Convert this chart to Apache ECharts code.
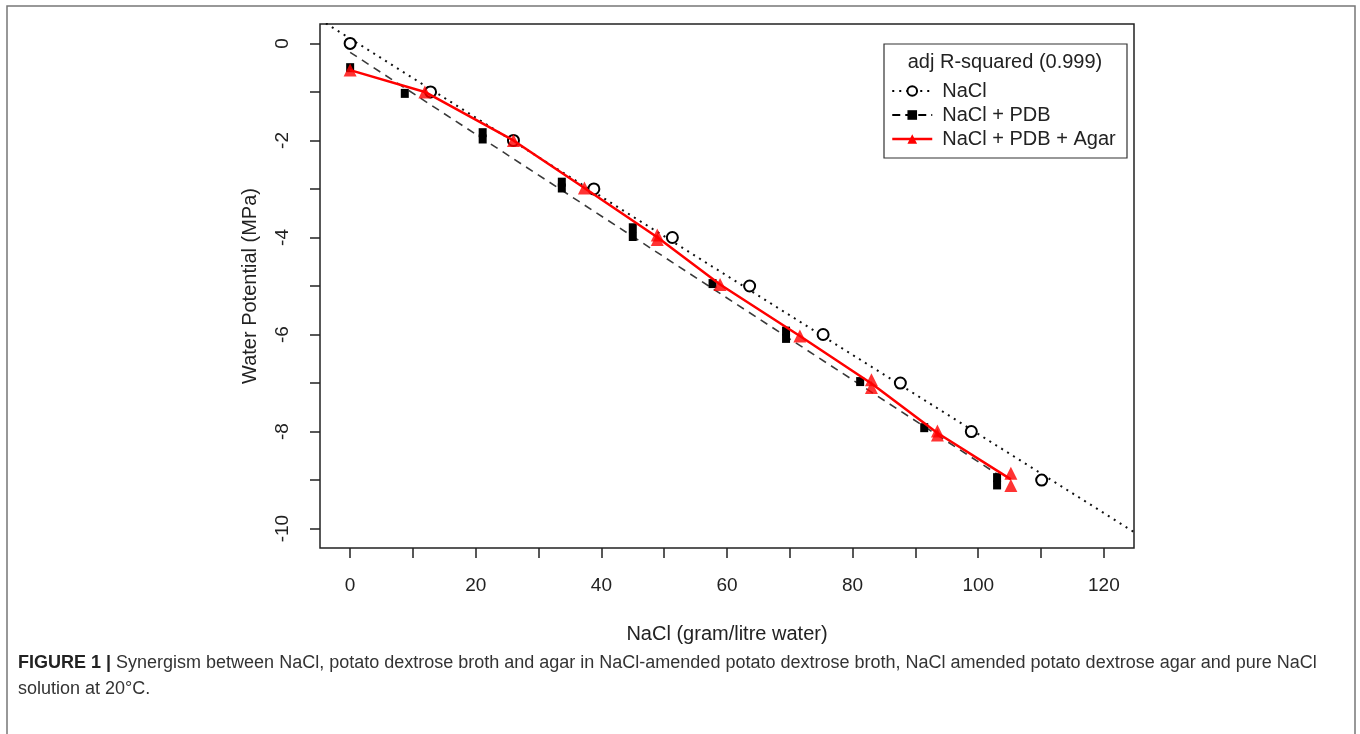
<!DOCTYPE html>
<html>
<head>
<meta charset="utf-8">
<script src="https://cdn.jsdelivr.net/npm/echarts@6/dist/echarts.min.js"></script>
<style>html,body{margin:0;padding:0;background:#fff;}#c{width:1360px;height:734px;}</style>
</head>
<body>
<div id="c"></div>
<script>
// ---- data ----
const naclX = [0, 12.8, 26, 38.8, 51.3, 63.6, 75.3, 87.6, 98.9, 110.1];
const naclY = [0, -1, -2, -3, -4, -5, -6, -7, -8, -9];

const pdbX = [0, 8.7, 21.1, 21.1, 33.7, 33.7, 45.0, 45.0, 57.7, 69.4, 69.4, 81.2, 91.4, 103.0, 103.0];
const pdbY = [-0.5, -1.03, -1.84, -1.97, -2.86, -2.98, -3.8, -3.98, -4.95, -5.93, -6.08, -6.97, -7.92, -8.95, -9.1];

const agarX = [0, 11.9, 26.0, 37.3, 48.9, 48.9, 58.9, 71.6, 83.0, 83.0, 93.5, 93.5, 105.2, 105.2];
const agarY = [-0.55, -1.0, -2.0, -2.98, -3.95, -4.04, -4.97, -6.03, -6.93, -7.09, -7.99, -8.07, -8.86, -9.11];

const xTicks = [0, 10, 20, 30, 40, 50, 60, 70, 80, 90, 100, 110, 120];
const xLabels = [0, 20, 40, 60, 80, 100, 120];
const yTicks = [0, -1, -2, -3, -4, -5, -6, -7, -8, -9, -10];
const yLabels = [0, -2, -4, -6, -8, -10];

const seriesNames = ['NaCl', 'NaCl + PDB', 'NaCl + PDB + Agar'];
const legendTitle = 'adj R-squared (0.999)';
const xTitle = 'NaCl (gram/litre water)';
const yTitle = 'Water Potential (MPa)';
const captionBold = 'FIGURE 1 |';
const captionText = ' Synergism between NaCl, potato dextrose broth and agar in NaCl-amended potato dextrose broth, NaCl amended potato dextrose agar and pure NaCl\nsolution at 20°C.';

const xMin = -4.8, xMax = 124.8, yMin = -10.4, yMax = 0.4;

// ---- helpers ----
function linfit(xs, ys) {
  const n = xs.length;
  const mx = xs.reduce((a, b) => a + b, 0) / n;
  const my = ys.reduce((a, b) => a + b, 0) / n;
  let sxy = 0, sxx = 0;
  for (let i = 0; i < n; i++) { sxy += (xs[i] - mx) * (ys[i] - my); sxx += (xs[i] - mx) * (xs[i] - mx); }
  const b = sxy / sxx;
  return { a: my - b * mx, b: b };
}
function groupMeans(xs, ys) {
  const m = new Map();
  xs.forEach((x, i) => { if (!m.has(x)) m.set(x, []); m.get(x).push(ys[i]); });
  return Array.from(m.entries()).map(([x, v]) => [x, v.reduce((a, b) => a + b, 0) / v.length]);
}
const zip = (xs, ys) => xs.map((x, i) => [x, ys[i]]);

const naclFit = linfit(naclX, naclY);
const pdbFit = linfit(pdbX, pdbY);
const naclLine = [[xMin, naclFit.a + naclFit.b * xMin], [xMax, naclFit.a + naclFit.b * xMax]];
const pMin = Math.min(...pdbX), pMax = Math.max(...pdbX);
const pdbLine = [[pMin, pdbFit.a + pdbFit.b * pMin], [pMax, pdbFit.a + pdbFit.b * pMax]];
const agarMeans = groupMeans(agarX, agarY);

const FONT = 'Liberation Sans, Arial, sans-serif';
const chart = echarts.init(document.getElementById('c'), null, { renderer: 'canvas' });

chart.setOption({
  animation: false,
  backgroundColor: '#fff',
  textStyle: { fontFamily: FONT },
  grid: { left: 320, right: 226, top: 24, bottom: 186, show: true, borderColor: '#222', borderWidth: 1.5, backgroundColor: 'transparent' },
  xAxis: {
    type: 'value', min: xMin, max: xMax,
    name: xTitle, nameLocation: 'middle', nameGap: 76,
    nameTextStyle: { fontSize: 20, color: '#222', fontFamily: FONT },
    axisLine: { show: false, onZero: false },
    splitLine: { show: false },
    axisTick: { show: true, length: 10, lineStyle: { color: '#222', width: 1.5 }, customValues: xTicks },
    axisLabel: { fontSize: 19, color: '#222', margin: 28, customValues: xLabels, fontFamily: FONT }
  },
  yAxis: {
    type: 'value', min: yMin, max: yMax,
    name: yTitle, nameLocation: 'middle', nameGap: 60, nameRotate: 90,
    nameTextStyle: { fontSize: 20, color: '#222', fontFamily: FONT },
    axisLine: { show: false, onZero: false },
    splitLine: { show: false },
    axisTick: { show: true, length: 10, lineStyle: { color: '#222', width: 1.5 }, customValues: yTicks },
    axisLabel: { fontSize: 19, color: '#222', margin: 28, rotate: 90, customValues: yLabels, fontFamily: FONT }
  },
  legend: {
    left: 886, top: 76, orient: 'vertical',
    itemWidth: 40, itemHeight: 12, itemGap: 4,
    textStyle: { fontSize: 20, color: '#222', fontFamily: FONT, padding: [0, 0, 0, 5] },
    selectedMode: false,
    data: [
      { name: seriesNames[0], lineStyle: { width: 2, type: [2, 5], color: '#000', opacity: 1 } },
      { name: seriesNames[1], lineStyle: { width: 2, type: [8, 5], color: '#000', opacity: 1 } },
      { name: seriesNames[2], lineStyle: { width: 2.5, type: 'solid', color: '#ff0000', opacity: 1 } }
    ]
  },
  graphic: [
    { type: 'rect', shape: { x: 7, y: 6, width: 1348, height: 760 }, style: { fill: 'none', stroke: '#777', lineWidth: 1.5 }, silent: true },
    { type: 'rect', shape: { x: 884, y: 44, width: 243, height: 114 }, style: { fill: '#fff', stroke: '#333', lineWidth: 1.2 }, silent: true, z: 1 },
    { type: 'text', x: 1005, y: 62, z: 2, style: { text: legendTitle, font: '20px ' + FONT, fill: '#222', textAlign: 'center', textVerticalAlign: 'middle' } },
    { type: 'text', x: 18, y: 650, style: {
        text: '{b|' + captionBold + '}' + captionText,
        font: '18px ' + FONT, fill: '#333', lineHeight: 26,
        rich: { b: { fontWeight: 'bold', fontSize: 18, fill: '#222', fontFamily: FONT, lineHeight: 26 } }
      } }
  ],
  series: [
    { name: 'nacl-fit', type: 'line', data: naclLine, symbol: 'none', silent: true, z: 2,
      lineStyle: { color: '#111', width: 2, type: [2, 5] } },
    { name: seriesNames[0], type: 'line', data: zip(naclX, naclY), symbol: 'emptyCircle', symbolSize: 11, z: 3,
      itemStyle: { color: '#000', borderColor: '#000', borderWidth: 2 }, lineStyle: { width: 0, opacity: 0 } },
    { name: 'pdb-fit', type: 'line', data: pdbLine, symbol: 'none', silent: true, z: 4,
      lineStyle: { color: '#3a3a3a', width: 1.6, type: [8, 6] } },
    { name: seriesNames[1], type: 'line', data: zip(pdbX, pdbY), symbol: 'rect', symbolSize: [8, 9], z: 5,
      itemStyle: { color: '#000' }, lineStyle: { width: 0, opacity: 0 } },
    { name: 'agar-reps', type: 'scatter', data: zip(agarX, agarY), symbol: 'triangle', symbolSize: 13, z: 6,
      itemStyle: { color: '#ff0000' } },
    { name: seriesNames[2], type: 'line', data: agarMeans, symbol: 'triangle', showSymbol: false, symbolSize: 13, z: 7,
      itemStyle: { color: '#ff0000' }, lineStyle: { color: '#ff0000', width: 2.5 } }
  ]
});
</script>
</body>
</html>
